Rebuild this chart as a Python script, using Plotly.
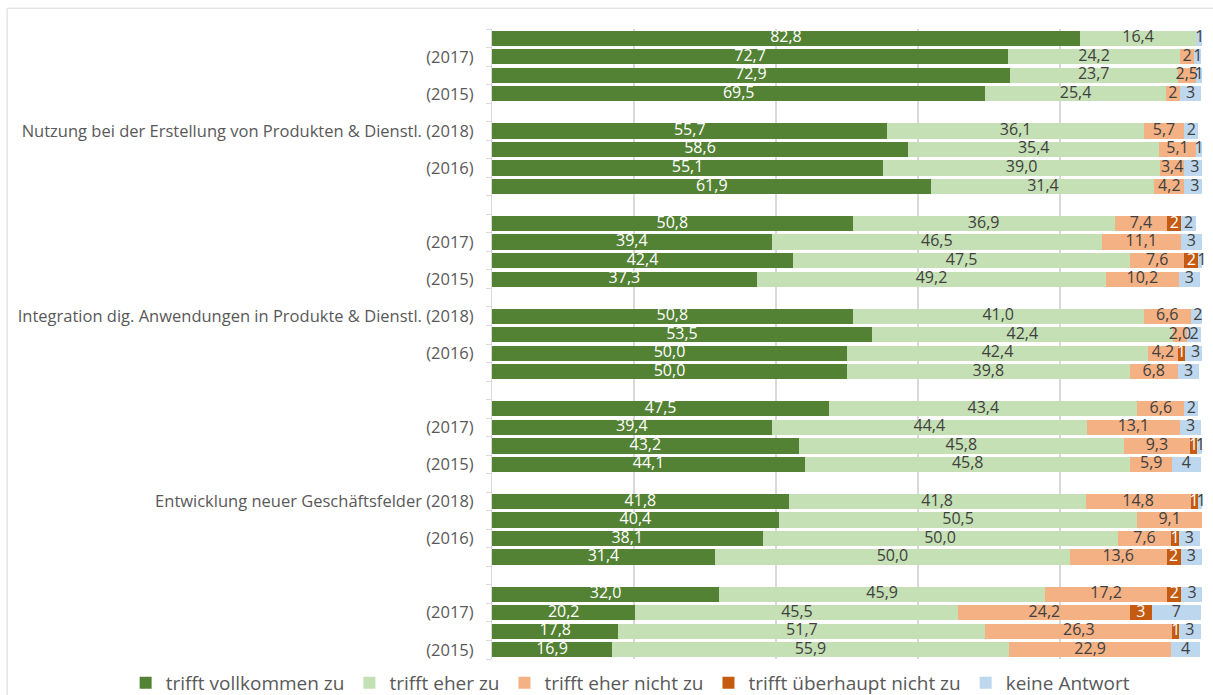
import plotly.graph_objects as go

series_names = ["trifft vollkommen zu", "trifft eher zu", "trifft eher nicht zu",
                "trifft überhaupt nicht zu", "keine Antwort"]
colors = ["#548235", "#c5e0b4", "#f4b183", "#c55a11", "#bdd7ee"]
text_colors = ["#ffffff", "#404040", "#404040", "#ffffff", "#404040"]

# 34 rows from top to bottom (gap rows are None); hidden labels are ""
row_labels = [
    "", "(2017)", "", "(2015)", "",
    "Nutzung bei der Erstellung von Produkten & Dienstl. (2018)", "", "(2016)", "", "",
    "", "(2017)", "", "(2015)", "",
    "Integration dig. Anwendungen in Produkte & Dienstl. (2018)", "", "(2016)", "", "",
    "", "(2017)", "", "(2015)", "",
    "Entwicklung neuer Geschäftsfelder (2018)", "", "(2016)", "", "",
    "", "(2017)", "", "(2015)",
]
N = None
vollkommen = [82.8, 72.7, 72.9, 69.5, N,
              55.7, 58.6, 55.1, 61.9, N,
              50.8, 39.4, 42.4, 37.3, N,
              50.8, 53.5, 50.0, 50.0, N,
              47.5, 39.4, 43.2, 44.1, N,
              41.8, 40.4, 38.1, 31.4, N,
              32.0, 20.2, 17.8, 16.9]
eher = [16.4, 24.2, 23.7, 25.4, N,
        36.1, 35.4, 39.0, 31.4, N,
        36.9, 46.5, 47.5, 49.2, N,
        41.0, 42.4, 42.4, 39.8, N,
        43.4, 44.4, 45.8, 45.8, N,
        41.8, 50.5, 50.0, 50.0, N,
        45.9, 45.5, 51.7, 55.9]
# ints are labelled without decimals, floats with one decimal
eher_nicht = [0, 2, 2.5, 2, N,
              5.7, 5.1, 3.4, 4.2, N,
              7.4, 11.1, 7.6, 10.2, N,
              6.6, 2.0, 4.2, 6.8, N,
              6.6, 13.1, 9.3, 5.9, N,
              14.8, 9.1, 7.6, 13.6, N,
              17.2, 24.2, 26.3, 22.9]
ueberhaupt_nicht = [0, 0, 0, 0, N,
                    0, 0, 0, 0, N,
                    2, 0, 2, 0, N,
                    0, 0, 1, 0, N,
                    0, 0, 1, 0, N,
                    1, 0, 1, 2, N,
                    2, 3, 1, 0]
keine_antwort = [1, 1, 1, 3, N,
                 2, 1, 3, 3, N,
                 2, 3, 1, 3, N,
                 2, 2, 3, 3, N,
                 2, 3, 1, 4, N,
                 1, 0, 3, 3, N,
                 3, 7, 3, 4]

data = [vollkommen, eher, eher_nicht, ueberhaupt_nicht, keine_antwort]
rows = list(range(len(row_labels)))


def fmt(v):
    if isinstance(v, int):
        return str(v)
    return f"{v:.1f}".replace(".", ",")


fig = go.Figure()
for name, vals, col in zip(series_names, data, colors):
    fig.add_trace(go.Bar(
        y=rows, x=vals, name=name, orientation="h",
        marker=dict(color=col, line=dict(width=0)),
        width=0.82, hoverinfo="skip",
    ))

# labels at segment centres
cum = [0.0] * len(rows)
for vals, tc in zip(data, text_colors):
    xs, ys, ts = [], [], []
    for i, v in enumerate(vals):
        if v is None:
            continue
        if v > 0:
            xs.append(cum[i] + v / 2)
            ys.append(i)
            ts.append(fmt(v))
        cum[i] += v
    fig.add_trace(go.Scatter(
        x=xs, y=ys, text=ts, mode="text", showlegend=False,
        textfont=dict(color=tc, size=16, family="Open Sans"),
        cliponaxis=False, hoverinfo="skip",
    ))

tickvals = [i for i, t in enumerate(row_labels) if t]
ticktext = [t for t in row_labels if t]

fig.update_layout(
    barmode="stack",
    width=1213, height=695,
    margin=dict(l=492, r=11, t=29, b=36, autoexpand=False),
    paper_bgcolor="white", plot_bgcolor="white",
    font=dict(family="Open Sans", color="#595959", size=16),
    xaxis=dict(range=[0, 100], showticklabels=False, showgrid=True,
               gridcolor="#d9d9d9", gridwidth=2, dtick=20, zeroline=False,
               fixedrange=True),
    yaxis=dict(range=[len(rows) - 0.5, -0.5], tickmode="array",
               tickvals=tickvals, ticktext=ticktext, ticks="",
               showline=True, linecolor="#d9d9d9", linewidth=1,
               showgrid=False, zeroline=False, ticklabelstandoff=14,
               tickfont=dict(size=16.5, color="#595959"),
               minor=dict(ticks="outside", tickmode="linear", tick0=0.5, dtick=1,
                          ticklen=5, tickcolor="#d9d9d9", showgrid=False)),
    legend=dict(orientation="h", x=-0.516, xanchor="left", y=-0.038, yanchor="middle",
                font=dict(size=19, color="#595959"),
                traceorder="normal", itemwidth=30, tracegroupgap=0),
    shapes=[dict(type="rect", xref="paper", yref="paper",
                 x0=-0.683, x1=1.05, y0=-0.1, y1=1.033,
                 line=dict(color="#d9d9d9", width=1), fillcolor="rgba(0,0,0,0)",
                 layer="below")],
)

fig.write_html("out.html")
